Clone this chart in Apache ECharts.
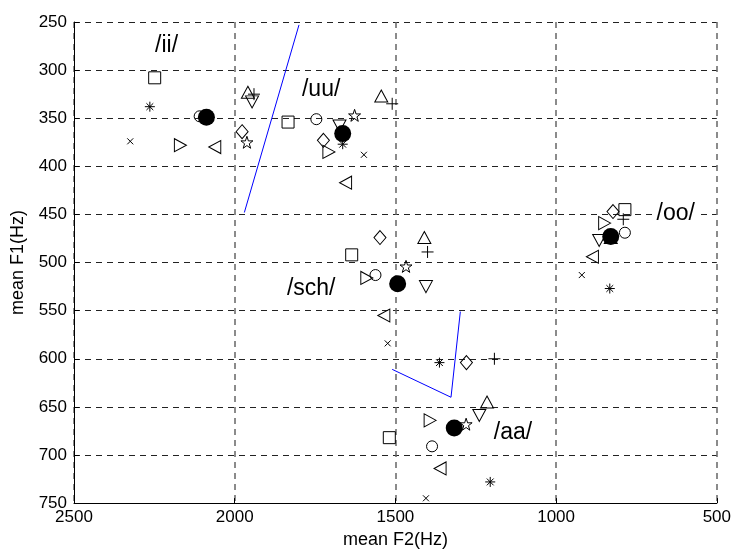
<!DOCTYPE html>
<html>
<head>
<meta charset="utf-8">
<script src="https://cdn.jsdelivr.net/npm/echarts@6/dist/echarts.min.js"></script>
<style>
html, body { margin: 0; padding: 0; background: #fff; }
#chart { width: 734px; height: 554px; }
</style>
</head>
<body>
<div id="chart"></div>
<script>
// order in every array: /ii/, /uu/, /sch/, /aa/, /oo/   point = [F2, F1]
var vowels   = ['/ii/', '/uu/', '/sch/', '/aa/', '/oo/'];
var square   = [[2249,308],[1834,354],[1636,492],[1519,682],[786,445]];
var circle   = [[2109,348],[1746,351],[1562,513],[1386,691],[786,469]];
var triUp    = [[1959,323],[1544,327],[1410,474],[1215,645],[830,474]];
var triDown  = [[1946,333],[1674,358],[1405,525],[1239,659],[866,477]];
var triLeft  = [[2062,380],[1655,417],[1536,555],[1361,714],[887,494]];
var triRight = [[2169,378],[1707,385],[1589,516],[1392,664],[849,459]];
var diamond  = [[1977,364],[1724,373],[1548,474],[1279,604],[823,447]];
var star     = [[1962,375],[1627,347],[1467,504],[1280,668],[832,474]];
var asterisk = [[2264,338],[1664,377],[1363,604],[1205,728],[833,527]];
var plus     = [[1940,325],[1510,335],[1400,489],[1192,600],[791,455]];
var cross    = [[2325,374],[1598,388],[1524,584],[1405,745],[920,513]];
var means    = [[2088,349],[1664,366],[1493,522],[1317,672],[830,473]];

// where the vowel names sit
var labelAt  = [[2212,275],[1731,320],[1762,527],[1134,677],[628,449]];

// blue boundary lines
var border1  = [[1800,253],[1970,448]];
var border2  = [[1510,611],[1327,640],[1298,551]];

var speakers = [
    { data: square,   symbol: 'rect', size: 12 },
    { data: circle,   symbol: 'circle', size: 11 },
    { data: triUp,    symbol: 'path://M5,0 L10,9 L0,9 Z', size: [13, 12] },
    { data: triDown,  symbol: 'path://M0,0 L10,0 L5,9 Z', size: [13, 12] },
    { data: triLeft,  symbol: 'path://M0,5 L9,0 L9,10 Z', size: [12, 13] },
    { data: triRight, symbol: 'path://M9,5 L0,0 L0,10 Z', size: [12, 13] },
    { data: diamond,  symbol: 'diamond', size: [12, 14] },
    { data: star,     symbol: 'path://M50,0 L61.8,35.1 L97.6,34.5 L68.8,56.3 L79.4,90.5 L50,70 L20.6,90.5 L31.2,56.3 L2.4,34.5 L38.2,35.1 Z', size: 12 },
    { data: asterisk, symbol: 'path://M5,0 L5,10 M0,5 L10,5 M1.6,1.6 L8.4,8.4 M8.4,1.6 L1.6,8.4', size: 10 },
    { data: plus,     symbol: 'path://M5,0 L5,10 M0,5 L10,5', size: 12 },
    { data: cross,    symbol: 'path://M0,0 L10,10 M10,0 L0,10', size: 6 }
];

var font = 'Liberation Sans, Arial, sans-serif';
var chart = echarts.init(document.getElementById('chart'));

var series = [];
speakers.forEach(function (s, i) {
    series.push({
        type: 'scatter',
        name: 's' + i,
        data: s.data,
        symbol: s.symbol,
        symbolSize: s.size,
        itemStyle: { color: 'rgba(0,0,0,0)', borderColor: '#000', borderWidth: 1, opacity: 1 },
        emphasis: { disabled: true },
        z: 3
    });
});

series.push({
    type: 'scatter',
    name: 'mean',
    data: means,
    symbol: 'circle',
    symbolSize: 17,
    itemStyle: { color: '#000', opacity: 1 },
    emphasis: { disabled: true },
    z: 4
});

[border1, border2].forEach(function (b) {
    series.push({
        type: 'line',
        data: b,
        symbol: 'none',
        lineStyle: { color: '#0000ff', width: 1 },
        emphasis: { disabled: true },
        z: 2
    });
});

series.push({
    type: 'scatter',
    name: 'labels',
    data: labelAt.map(function (p, i) { return { value: p, name: vowels[i] }; }),
    symbolSize: 0,
    itemStyle: { opacity: 1 },
    label: {
        show: true,
        position: 'inside',
        formatter: '{b}',
        fontFamily: font,
        fontSize: 23,
        color: '#000',
        opacity: 1,
        backgroundColor: '#fff',
        padding: [0, 2]
    },
    emphasis: { disabled: true },
    z: 5
});

option = {
    backgroundColor: '#fff',
    animation: false,
    grid: { left: 74, right: 16, top: 22, bottom: 48, containLabel: false },
    xAxis: {
        type: 'value',
        inverse: true,
        min: 500, max: 2500, interval: 500,
        name: 'mean F2(Hz)',
        nameLocation: 'middle',
        nameGap: 24,
        nameTextStyle: { fontFamily: font, fontSize: 18, color: '#000' },
        axisLine: { onZero: false, lineStyle: { color: '#000', width: 1 } },
        axisTick: { inside: true, length: 5, lineStyle: { color: '#000' } },
        axisLabel: { fontFamily: font, fontSize: 17, color: '#000', margin: 6,
                     showMinLabel: true, showMaxLabel: true,
                     formatter: function (v) { return String(v); } },
        splitLine: { show: true, lineStyle: { color: '#666', width: 1.5, type: [6, 5] } }
    },
    yAxis: {
        type: 'value',
        inverse: true,
        min: 250, max: 750, interval: 50,
        name: 'mean F1(Hz)',
        nameLocation: 'middle',
        nameGap: 47,
        nameTextStyle: { fontFamily: font, fontSize: 18, color: '#000' },
        axisLine: { show: true, onZero: false, lineStyle: { color: '#000', width: 1 } },
        axisTick: { show: true, inside: true, length: 5, lineStyle: { color: '#000' } },
        axisLabel: { fontFamily: font, fontSize: 17, color: '#000', margin: 7,
                     showMinLabel: true, showMaxLabel: true,
                     formatter: function (v) { return String(v); } },
        splitLine: { show: true, lineStyle: { color: '#222', width: 1, type: [6, 5] } }
    },
    series: series
};
chart.setOption(option);
</script>
</body>
</html>
